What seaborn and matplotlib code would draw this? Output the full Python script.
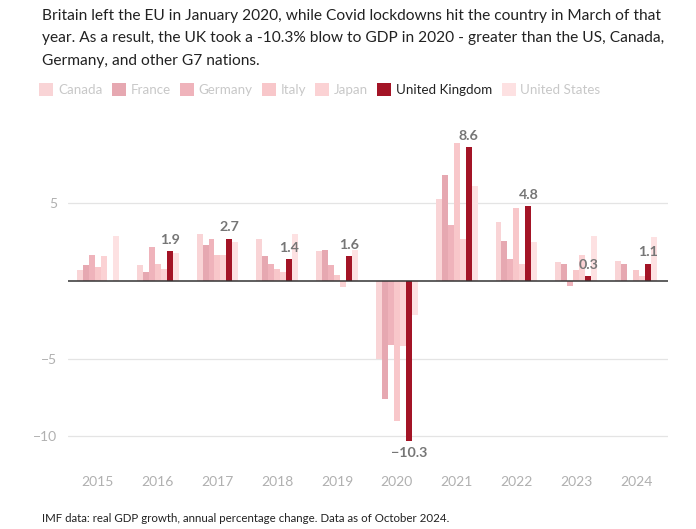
import matplotlib
matplotlib.use("Agg")
import matplotlib.pyplot as plt
import seaborn as sns
import pandas as pd
import numpy as np
from matplotlib.patches import Patch

years = ["2015", "2016", "2017", "2018", "2019", "2020", "2021", "2022", "2023", "2024"]
countries = ["Canada", "France", "Germany", "Italy", "Japan", "United Kingdom", "United States"]

canada = [0.7, 1.0, 3.0, 2.7, 1.9, -5.0, 5.3, 3.8, 1.2, 1.3]
france = [1.0, 0.6, 2.3, 1.6, 2.0, -7.6, 6.8, 2.6, 1.1, 1.1]
germany = [1.7, 2.2, 2.7, 1.1, 1.0, -4.1, 3.6, 1.4, -0.3, 0.0]
italy = [0.9, 1.1, 1.7, 0.8, 0.4, -9.0, 8.9, 4.7, 0.7, 0.7]
japan = [1.6, 0.8, 1.7, 0.6, -0.4, -4.2, 2.7, 1.1, 1.7, 0.3]
uk = [None, 1.9, 2.7, 1.4, 1.6, -10.3, 8.6, 4.8, 0.3, 1.1]
us = [2.9, 1.8, 2.5, 3.0, 2.0, -2.2, 6.1, 2.5, 2.9, 2.8]

series = [canada, france, germany, italy, japan, uk, us]

colors = {
    "Canada": "#f9d4d6",
    "France": "#e6a8b1",
    "Germany": "#efb3bb",
    "Italy": "#f8c7ca",
    "Japan": "#fbd2d4",
    "United Kingdom": "#a31426",
    "United States": "#fde1e2",
}

rows = []
for c, vals in zip(countries, series):
    for y, v in zip(years, vals):
        if v is not None:
            rows.append({"year": y, "country": c, "growth": v})
df = pd.DataFrame(rows)

sns.set_theme(style="white")
plt.rcParams["font.family"] = ["Lato", "DejaVu Sans"]

fig = plt.figure(figsize=(6.96, 5.29), dpi=100)
ax = fig.add_axes([68 / 696, (529 - 467.6) / 529, 600 / 696, (467.6 - 120.8) / 529])

sns.barplot(data=df, x="year", y="growth", hue="country", order=years,
            hue_order=countries, palette=colors, width=0.7, errorbar=None,
            saturation=1, ax=ax, legend=False, linewidth=0, zorder=3)

ax.set_ylim(-12, 10.3)
ax.set_xlim(-0.5, 9.535)
ax.set_yticks([-10, -5, 5])
ax.set_yticklabels(["\u221210", "\u22125", "5"])
for yv in [-10, -5, 5]:
    ax.axhline(yv, color="#e4e4e4", lw=0.9, zorder=1)
ax.axhline(0, color="#333333", lw=1.1, zorder=4)
ax.tick_params(axis="both", length=0, labelsize=10, colors="#b0b0b0", pad=6)
ax.tick_params(axis="y", pad=8)
for s in ax.spines.values():
    s.set_visible(False)
ax.set_xlabel("")
ax.set_ylabel("")
ax.grid(False)

# UK value labels
uk_container = ax.containers[countries.index("United Kingdom")]
uk_vals = [v for v in uk if v is not None]
labels = [f"{v:.1f}".replace("-", "\u2212") for v in uk_vals]
ax.bar_label(uk_container, labels=labels, padding=4, fontsize=10.3,
             fontweight="bold", color="#767676", zorder=5)

# Title
fig.text(42 / 696, 1 - 9 / 529,
         "Britain left the EU in January 2020, while Covid lockdowns hit the country in March of that\n"
         "year. As a result, the UK took a -10.3% blow to GDP in 2020 - greater than the US, Canada,\n"
         "Germany, and other G7 nations.",
         ha="left", va="top", fontsize=11.2, color="#222222", linespacing=1.75)

# Legend
handles = [Patch(facecolor=colors[c], edgecolor="none") for c in countries]
leg = fig.legend(handles, countries, loc="center left",
                 bbox_to_anchor=(34 / 696, 1 - 89.5 / 529), ncol=7, frameon=False,
                 fontsize=9.6, handlelength=1.05, handleheight=1.05,
                 handletextpad=0.35, columnspacing=0.7, borderaxespad=0)
for t, c in zip(leg.get_texts(), countries):
    t.set_color("#222222" if c == "United Kingdom" else "#c8c8c8")

fig.text(42 / 696, 1 - 519 / 529,
         "IMF data: real GDP growth, annual percentage change. Data as of October 2024.",
         ha="left", va="center", fontsize=8.3, color="#222222")

fig.savefig("out.png", dpi=100, facecolor="white")
